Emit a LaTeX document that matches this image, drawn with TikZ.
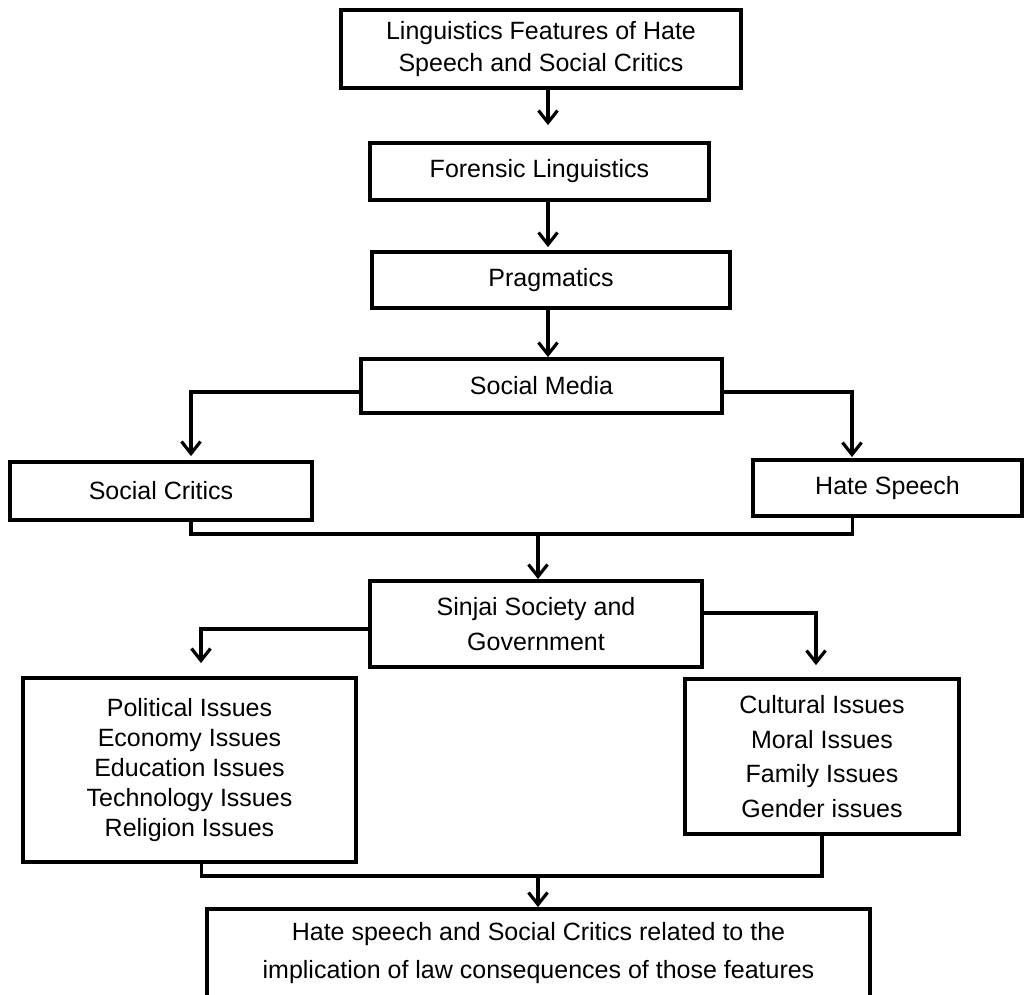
\documentclass[tikz,border=0pt]{standalone}
\usepackage{fontspec}
\setmainfont{Liberation Sans}
\usetikzlibrary{arrows.meta, calc}

\begin{document}
\begin{tikzpicture}[x=1pt, y=-1pt,
  box/.style={draw, line width=3.8pt, align=center, inner sep=0pt},
  conn/.style={line width=3.4pt},
  arr/.style={conn, -{Straight Barb[length=12pt, width=19pt, line width=3.2pt]}}]
\useasboundingbox (0,0) rectangle (1025,994);

\node[box, minimum width=400pt, minimum height=78pt, font=\fontsize{25}{32}\selectfont] (feat) at (541,49) {Linguistics Features of Hate\\Speech and Social Critics};
\node[box, minimum width=339pt, minimum height=57pt, font=\fontsize{25}{30}\selectfont] (foren) at (539.5,171.5) {Forensic Linguistics};
\node[box, minimum width=358pt, minimum height=56pt, font=\fontsize{25}{30}\selectfont] (prag) at (551,280) {Pragmatics};
\node[box, minimum width=361pt, minimum height=54pt, font=\fontsize{25}{30}\selectfont] (media) at (541.5,386) {Social Media};
\node[box, minimum width=302pt, minimum height=58pt, font=\fontsize{25}{30}\selectfont] (critics) at (161,491) {Social Critics};
\node[box, minimum width=269pt, minimum height=56pt, font=\fontsize{25}{30}\selectfont] (hate) at (887.5,488) {Hate Speech};
\node[box, minimum width=332pt, minimum height=86pt, font=\fontsize{25}{35}\selectfont] (sinjai) at (536,624) {Sinjai Society and\\Government};
\node[box, minimum width=333pt, minimum height=184pt, font=\fontsize{25}{30}\selectfont] (polit) at (189.5,770) {Political Issues\\Economy Issues\\Education Issues\\Technology Issues\\Religion Issues};
\node[box, minimum width=274pt, minimum height=155pt, font=\fontsize{25}{34.5}\selectfont] (cult) at (822,756.5) {Cultural Issues\\Moral Issues\\Family Issues\\Gender issues};
\node[box, minimum width=663pt, minimum height=89pt, font=\fontsize{25}{38}\selectfont] (final) at (538.5,953.5) {Hate speech and Social Critics related to the\\implication of law consequences of those features};

\coordinate (spine) at (548,0);
\coordinate (j1) at (538,534);
\coordinate (j2) at (538,876);

\draw[arr, shorten >=16pt] (feat.south -| spine) -- (foren.north -| spine);
\draw[arr, shorten >=3pt] (foren.south -| spine) -- (prag.north -| spine);
\draw[arr] (prag.south -| spine) -- (media.north -| spine);

\draw[arr] ($(media.west)+(0,6)$) -| ($(critics.north)+(30,-4)$);
\draw[arr] ($(media.east)+(0,6)$) -| ($(hate.north)+(-35.5,-1)$);

\draw[conn] ($(critics.south)+(30,0)$) |- (j1) -| ($(hate.south)+(-35,0)$);
\draw[arr] (j1) -- (j1 |- sinjai.north);

\draw[arr] ($(sinjai.west)+(0,5)$) -| ($(polit.north)+(11.5,-13)$);
\draw[arr] ($(sinjai.east)+(0,-11)$) -| ($(cult.north)+(-6,-12)$);

\draw[conn] ($(polit.south)+(12,0)$) |- (j2) -| (cult.south);
\draw[arr] (j2) -- (j2 |- final.north);
\end{tikzpicture}
\end{document}
